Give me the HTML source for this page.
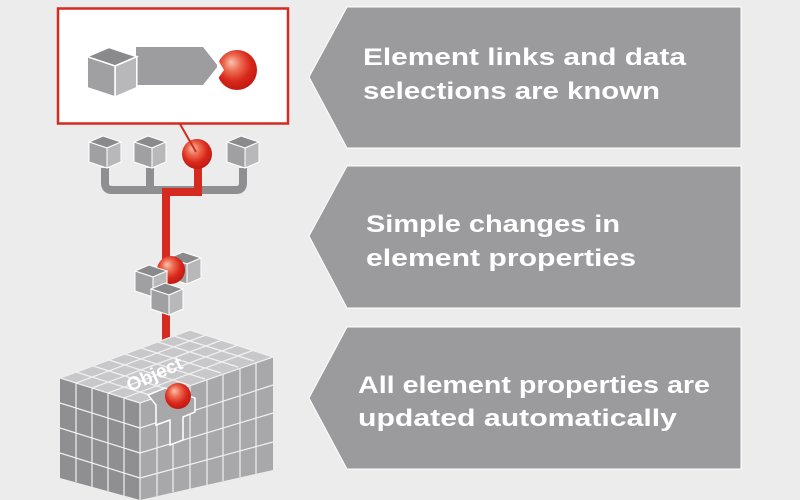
<!DOCTYPE html>
<html><head><meta charset="utf-8"><style>
html,body{margin:0;padding:0;background:#ececec;}
svg{display:block;}
text{font-family:"Liberation Sans",sans-serif;font-weight:bold;fill:#fff;}
</style></head><body>
<svg width="800" height="500" viewBox="0 0 800 500" xmlns="http://www.w3.org/2000/svg">
<defs>
<radialGradient id="sp" cx="0.45" cy="0.4" r="0.6" fx="0.35" fy="0.3">
<stop offset="0" stop-color="#f8c4b0"/><stop offset="0.35" stop-color="#ec6a50"/><stop offset="0.7" stop-color="#d9271b"/><stop offset="1" stop-color="#c01a12"/>
</radialGradient>
<g id="cube">
<polygon points="-16,-6 -2,-12 16,-6 2,0" fill="#8a8a8c" stroke="#fff" stroke-width="1"/>
<polygon points="-16,-6 2,0 2,20 -16,14" fill="#a0a0a2" stroke="#fff" stroke-width="1"/>
<polygon points="2,0 16,-6 16,14 2,20" fill="#b8b8ba" stroke="#fff" stroke-width="1"/>
</g>
</defs>
<rect width="800" height="500" fill="#ececec"/>
<polygon points="347,7 741,7 741,148 347,148 309,77" fill="#9b9b9d" stroke="#fff" stroke-width="1"/>
<polygon points="347,166 741,166 741,308 347,308 309,236" fill="#9b9b9d" stroke="#fff" stroke-width="1"/>
<polygon points="347,327 741,327 741,469 347,469 309,398" fill="#9b9b9d" stroke="#fff" stroke-width="1"/>
<text x="363" y="65" font-size="24" textLength="323" lengthAdjust="spacingAndGlyphs">Element links and data</text>
<text x="363" y="99" font-size="24" textLength="297" lengthAdjust="spacingAndGlyphs">selections are known</text>
<text x="366" y="232" font-size="24" textLength="254" lengthAdjust="spacingAndGlyphs">Simple changes in</text>
<text x="366" y="266" font-size="24" textLength="270" lengthAdjust="spacingAndGlyphs">element properties</text>
<text x="358" y="393" font-size="24" textLength="352" lengthAdjust="spacingAndGlyphs">All element properties are</text>
<text x="358" y="426" font-size="24" textLength="319" lengthAdjust="spacingAndGlyphs">updated automatically</text>
<rect x="58" y="8.5" width="230" height="115" fill="#fff" stroke="#d42a20" stroke-width="2.5"/>
<polygon points="136,47 203,47 218,66 203,85 136,85" fill="#9d9d9f"/>
<g transform="translate(112,66) scale(1.55)"><use href="#cube"/></g>
<circle cx="237" cy="70" r="20" fill="url(#sp)"/>
<polygon points="217,58 224,70 217,80" fill="#fff"/>
<path d="M105,168 V183 Q105,190 112,190 H236 Q243,190 243,183 V168 M150,168 V190" fill="none" stroke="#8f8f91" stroke-width="8"/>
<use href="#cube" transform="translate(105,148)"/>
<use href="#cube" transform="translate(150,148)"/>
<use href="#cube" transform="translate(243,148)"/>
<path d="M198,168 V192 H166 V340" fill="none" stroke="#d42a20" stroke-width="8"/>
<circle cx="197" cy="154" r="15" fill="url(#sp)"/>
<line x1="180" y1="124" x2="196" y2="152" stroke="#d42a20" stroke-width="2"/>
<use href="#cube" transform="translate(185,264)"/>
<circle cx="171" cy="270" r="14" fill="url(#sp)"/>
<use href="#cube" transform="translate(151,277)"/>
<use href="#cube" transform="translate(167,295)"/>
<polygon points="60,378 140,403 140,500 60,478" fill="#8f8f91"/>
<polygon points="140,403 273,357 273,470 140,500" fill="#a8a8aa"/>
<polygon points="60,378 190,330 273,357 140,403" fill="#c8c8ca"/>
<g stroke="#f0f0f0" stroke-width="1.2" fill="none">
<path d="M76,383V482 M92,388V487 M108,393V491 M124,398V496 M60,403L140,428 M60,428L140,453 M60,453L140,478"/>
<path d="M157,397V496 M173,392V492 M190,386V489 M207,380V485 M223,374V481 M240,369V477 M256,363V474 M140,428L273,385 M140,453L273,413 M140,478L273,442"/>
<path d="M76,383L206,335 M92,388L222,340 M108,393L238,345 M124,398L254,350 M76,372L156,397 M93,366L173,391 M109,360L189,385 M125,354L205,379 M141,348L221,373 M158,342L238,367 M174,336L254,361"/>
<path d="M60,378L190,330L273,357L140,403Z M140,403V500"/>
</g>
<text x="0" y="0" font-size="19" transform="translate(130,392) rotate(-24)" fill="#fff">Object</text>
<path d="M148,395 L165,388 L195,398 L195,412 L183,417 L183,440 L170,445 L170,420 L156,425 L156,405 Z" fill="#a8a8aa" stroke="#fff" stroke-width="1.5"/>
<circle cx="178" cy="396" r="13" fill="url(#sp)"/>
</svg>
</body></html>
